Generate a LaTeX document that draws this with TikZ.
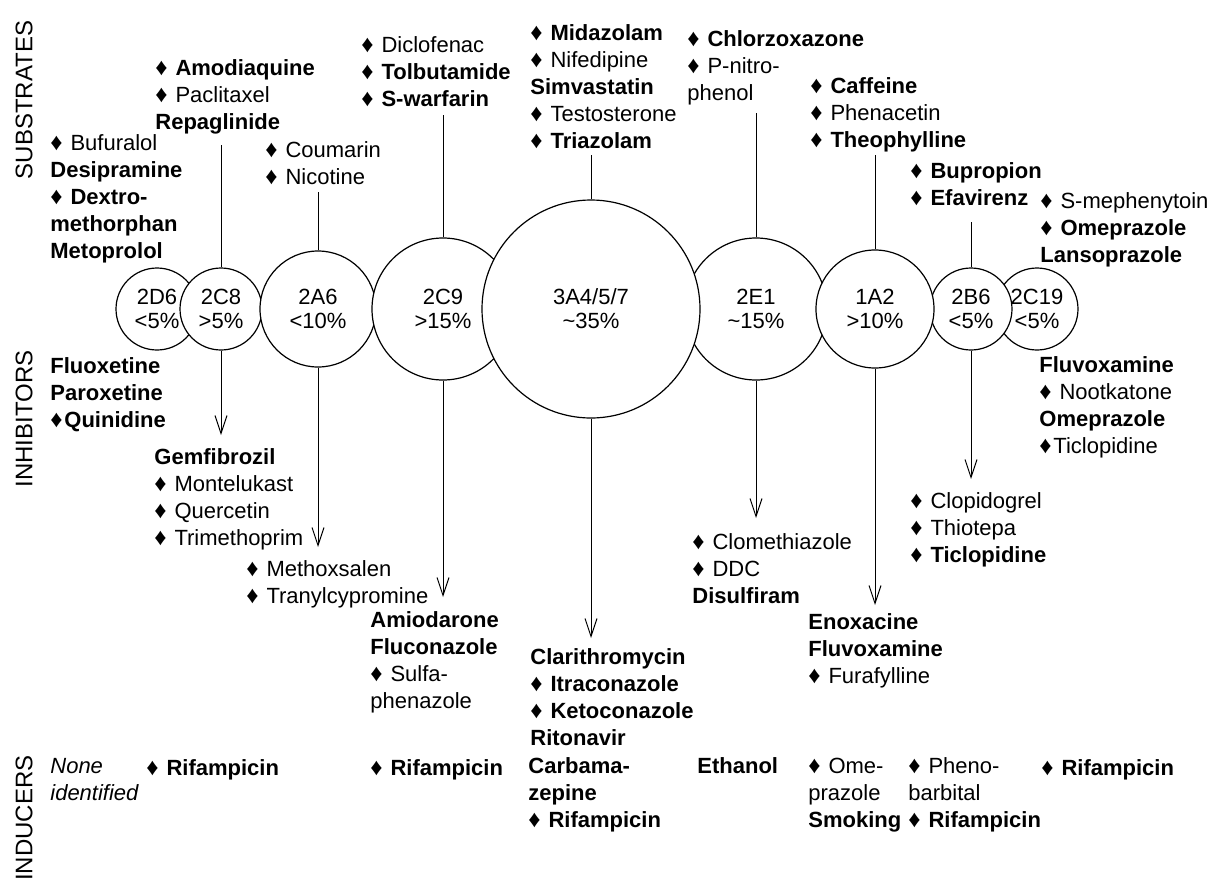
\documentclass[tikz,border=0pt]{standalone}
\usepackage{fontspec}
\setmainfont{Liberation Sans}
\usetikzlibrary{arrows.meta}
\newcommand\dia{{\fontsize{12}{12}\selectfont ♦}\kern0.08em}

\begin{document}
\begin{tikzpicture}[x=0.5pt, y=-0.5pt,
    enz/.style={circle, draw, fill=white, line width=0.6pt, inner sep=0pt, align=center,
      font=\fontsize{11}{12}\selectfont},
    drug/.style={anchor=base west, inner sep=0pt, align=left, font=\fontsize{11}{13.5}\selectfont},
    group/.style={rotate=90, inner sep=0pt, font=\fontsize{12}{14}\selectfont},
    subline/.style={line width=0.5pt},
    inhline/.style={line width=0.5pt, -{Straight Barb[length=9pt,width=6pt]}}]
    \useasboundingbox (0,0) rectangle (1216,879);
    % Row labels
    \node[group] (lsub) at (24,100) {SUBSTRATES};
    \node[group] (linh) at (24,419) {INHIBITORS};
    \node[group] (lind) at (24,818) {INDUCERS};
    % Enzymes
    \node[enz, minimum size=41pt] (c2D6) at (157,309) {2D6\\<5\%};
    \node[enz, minimum size=41pt] (c2C8) at (221,309) {2C8\\>5\%};
    \node[enz, minimum size=58pt] (c2A6) at (318,309) {2A6\\<10\%};
    \node[enz, minimum size=41pt] (c2C19) at (1037,309) {2C19\\<5\%};
    \node[enz, minimum size=41pt] (c2B6) at (971,309) {2B6\\<5\%};
    \node[enz, minimum size=71pt] (c2E1) at (756,309) {2E1\\\textasciitilde15\%};
    \node[enz, minimum size=59pt] (c1A2) at (875,309) {1A2\\>10\%};
    \node[enz, minimum size=71pt] (c2C9) at (443,309) {2C9\\>15\%};
    \node[enz, minimum size=109pt] (c3A4) at (591,309) {3A4/5/7\\\textasciitilde35\%};
    % Substrates (placed by the baseline of the last line)
    \node[drug] (s2D6) at (50,258) {\dia{} Bufuralol\\\textbf{Desipramine}\\\dia{} \textbf{Dextro-}\\\textbf{methorphan}\\\textbf{Metoprolol}};
    \node[drug] (s2C8) at (155,129) {\dia{} \textbf{Amodiaquine}\\\dia{} Paclitaxel\\\textbf{Repaglinide}};
    \node[drug] (s2A6) at (265,184) {\dia{} Coumarin\\\dia{} Nicotine};
    \node[drug] (s2C9) at (361,106) {\dia{} Diclofenac\\\dia{} \textbf{Tolbutamide}\\\dia{} \textbf{S-warfarin}};
    \node[drug] (s3A4) at (530,148) {\dia{} \textbf{Midazolam}\\\dia{} Nifedipine\\\textbf{Simvastatin}\\\dia{} Testosterone\\\dia{} \textbf{Triazolam}};
    \node[drug] (s2E1) at (687,100) {\dia{} \textbf{Chlorzoxazone}\\\dia{} P-nitro-\\phenol};
    \node[drug] (s1A2) at (810,147) {\dia{} \textbf{Caffeine}\\\dia{} Phenacetin\\\dia{} \textbf{Theophylline}};
    \node[drug] (s2B6) at (910,205) {\dia{} \textbf{Bupropion}\\\dia{} \textbf{Efavirenz}};
    \node[drug] (s2C19) at (1040,262) {\dia{} S-mephenytoin\\\dia{} \textbf{Omeprazole}\\\textbf{Lansoprazole}};
    % Inhibitors
    \node[drug] (i2D6) at (50,427) {\textbf{Fluoxetine}\\\textbf{Paroxetine}\\\dia\textbf{Quinidine}};
    \node[drug] (i2C8) at (154,545) {\textbf{Gemfibrozil}\\\dia{} Montelukast\\\dia{} Quercetin\\\dia{} Trimethoprim};
    \node[drug] (i2A6) at (246,603) {\dia{} Methoxsalen\\\dia{} Tranylcypromine};
    \node[drug] (i2C9) at (370,708) {\textbf{Amiodarone}\\\textbf{Fluconazole}\\\dia{} Sulfa-\\phenazole};
    \node[drug] (i3A4) at (530,745) {\textbf{Clarithromycin}\\\dia{} \textbf{Itraconazole}\\\dia{} \textbf{Ketoconazole}\\\textbf{Ritonavir}};
    \node[drug] (i2E1) at (692,603) {\dia{} Clomethiazole\\\dia{} DDC\\\textbf{Disulfiram}};
    \node[drug] (i1A2) at (808,683) {\textbf{Enoxacine}\\\textbf{Fluvoxamine}\\\dia{} Furafylline};
    \node[drug] (i2B6) at (910,562) {\dia{} Clopidogrel\\\dia{} Thiotepa\\\dia{} \textbf{Ticlopidine}};
    \node[drug] (i2C19) at (1039,453) {\textbf{Fluvoxamine}\\\dia{} Nootkatone\\\textbf{Omeprazole}\\\dia Ticlopidine};
    % Inducers
    \node[drug] (n2D6) at (50,800) {\textit{None}\\\textit{identified}};
    \node[drug] (n2C8) at (146,775) {\dia{} \textbf{Rifampicin}};
    \node[drug] (n2C9) at (370,775) {\dia{} \textbf{Rifampicin}};
    \node[drug] (n3A4) at (528,827) {\textbf{Carbama-}\\\textbf{zepine}\\\dia{} \textbf{Rifampicin}};
    \node[drug] (n2E1) at (697,773) {\textbf{Ethanol}};
    \node[drug] (n1A2) at (808,827) {\dia{} Ome-\\prazole\\\textbf{Smoking}};
    \node[drug] (n2B6) at (908,827) {\dia{} Pheno-\\barbital\\\dia{} \textbf{Rifampicin}};
    \node[drug] (n2C19) at (1041,775) {\dia{} \textbf{Rifampicin}};
    % Line ends
    \coordinate (t2C8) at (221,145);
    \coordinate (t2A6) at (318,192);
    \coordinate (t2C9) at (443,115);
    \coordinate (t3A4) at (591,155);
    \coordinate (t2E1) at (756,113);
    \coordinate (t1A2) at (875,155);
    \coordinate (t2B6) at (971,222);
    \coordinate (b2C8) at (221,435);
    \coordinate (b2A6) at (318,547);
    \coordinate (b2C9) at (443,597);
    \coordinate (b3A4) at (591,638);
    \coordinate (b2E1) at (756,518);
    \coordinate (b1A2) at (875,605);
    \coordinate (b2B6) at (971,479);
    % Substrate lines
    \draw[subline] (c2C8.north) -- (t2C8);
    \draw[subline] (c2A6.north) -- (t2A6);
    \draw[subline] (c2C9.north) -- (t2C9);
    \draw[subline] (c3A4.north) -- (t3A4);
    \draw[subline] (c2E1.north) -- (t2E1);
    \draw[subline] (c1A2.north) -- (t1A2);
    \draw[subline] (c2B6.north) -- (t2B6);
    % Inhibitor arrows
    \draw[inhline] (c2C8.south) -- (b2C8);
    \draw[inhline] (c2A6.south) -- (b2A6);
    \draw[inhline] (c2C9.south) -- (b2C9);
    \draw[inhline] (c3A4.south) -- (b3A4);
    \draw[inhline] (c2E1.south) -- (b2E1);
    \draw[inhline] (c1A2.south) -- (b1A2);
    \draw[inhline] (c2B6.south) -- (b2B6);
\end{tikzpicture}
\end{document}
